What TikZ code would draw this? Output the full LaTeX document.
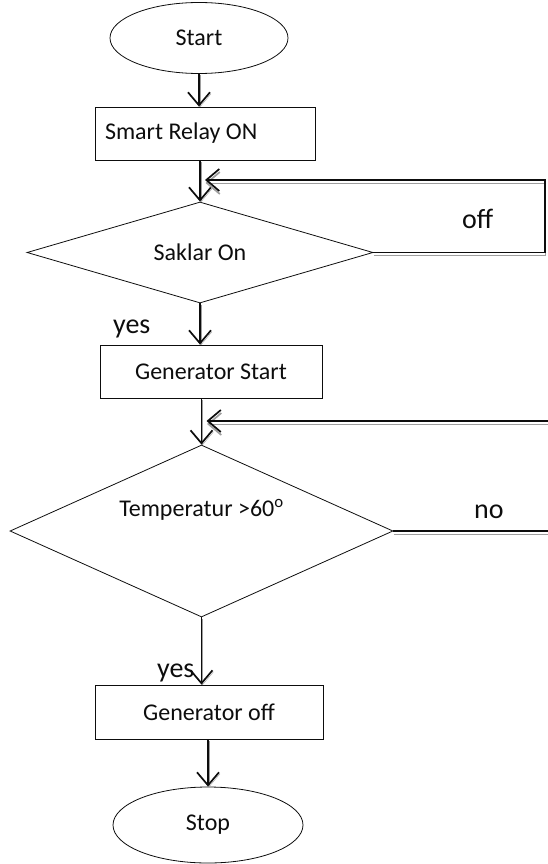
\documentclass[tikz,border=0pt]{standalone}
\usepackage{fontspec}
\setmainfont{Carlito}
\usetikzlibrary{shapes.geometric,arrows.meta}
\begin{document}
\begin{tikzpicture}[x=1pt, y=-1pt, ink/.style={line width=0.8pt, draw=fcInk}, term/.style={ellipse, ink, inner sep=0pt}, proc/.style={rectangle, ink, inner sep=0pt, minimum height=53pt}, test/.style={diamond, ink, inner sep=0pt, aspect=3}, flow/.style={-{Straight Barb[length=13pt, width=22pt, line width=1.7pt]}, line width=1.7pt, fcInk, preaction={draw=fcShade, transform canvas={shift={(1pt,-1.5pt)}}}}, back/.style={-{Straight Barb[length=13pt, width=22pt, line width=1.7pt]}, line width=1.4pt, fcInk, preaction={draw=fcShade, line width=1pt, transform canvas={shift={(0.5pt,-3pt)}}}}, note/.style={font=\fontsize{28}{32}\selectfont, anchor=base west, inner sep=0pt}, every node/.style={font=\fontsize{24}{28}\selectfont, text=fcInk}]
\definecolor{fcInk}{rgb}{0.05,0.05,0.05}
\definecolor{fcShade}{rgb}{0.62,0.62,0.62}
\useasboundingbox (0,0) rectangle (548,864);
\node[term, minimum width=178pt, minimum height=71pt] (start) at (199,38) {Start};
\node[proc, text width=200pt, inner xsep=10pt, align=flush left] (relay) at (205,133.5) {Smart Relay ON};
\node[test, minimum width=346pt, minimum height=101pt] (saklar) at (200,252.5) {Saklar On};
\node[proc, minimum width=222pt] (genstart) at (211,371.5) {Generator Start};
\node[test, minimum width=383pt, minimum height=172pt, label={[yshift=21pt]center:Temperatur >60\textsuperscript{o}}] (temp) at (201.5,531) {};
\node[proc, minimum width=228pt, minimum height=54pt] (genoff) at (209,712) {Generator off};
\node[term, minimum width=190pt, minimum height=76pt] (stop) at (208,825) {Stop};
\coordinate (offtop) at (545,180);
\coordinate (notop) at (556,421);
\draw[flow] (start.south) -- (start.south |- relay.north);
\draw[flow] (relay.south -| saklar.north) -- (saklar.north);
\draw[flow] (saklar.south) -- (saklar.south |- genstart.north);
\draw[flow] (genstart.south -| temp.north) -- (temp.north);
\draw[flow] (temp.south) -- (temp.south |- genoff.north);
\draw[flow] (genoff.south -| stop.north) -- (stop.north);
\draw[back] (saklar.east) -- (saklar.east -| offtop) -- (offtop) -- ([xshift=5pt]saklar.north |- offtop);
\draw[back] (temp.east) -- (temp.east -| notop) -- (notop) -- ([xshift=5pt]temp.north |- notop);
\node[note] (offlabel) at (462,228) {off};
\node[note] (nolabel) at (474,518) {no};
\node[note] (yesone) at (113,333) {yes};
\node[note] (yestwo) at (157,677) {yes};
\end{tikzpicture}
\end{document}
